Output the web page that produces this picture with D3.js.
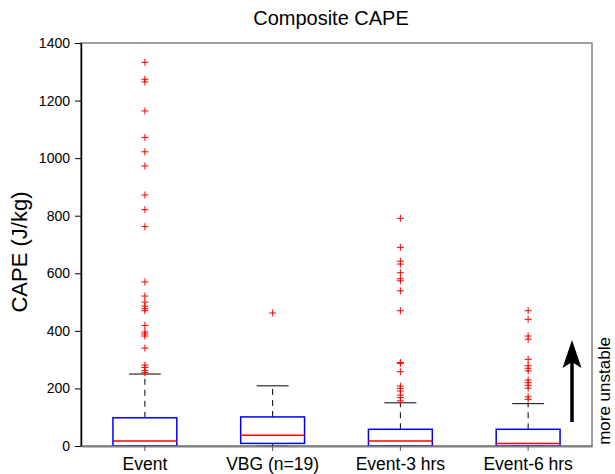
<!DOCTYPE html>
<html>
<head>
<meta charset="utf-8">
<script src="https://cdn.jsdelivr.net/npm/d3@7"></script>
<style>
  body { margin: 0; background: #fff; }
  svg { display: block; font-family: "Liberation Sans", Arial, Helvetica, sans-serif; }
</style>
</head>
<body>
<svg id="chart" width="615" height="474"></svg>
<script>
// box stats (J/kg)
const groups = ['Event', 'VBG (n=19)', 'Event-3 hrs', 'Event-6 hrs'];
const q1 = [0, 9, 0, 0];
const medians = [17, 37, 17, 9];
const q3 = [98, 101, 58, 58];
const whiskLo = [0, 0, 0, 0];
const whiskHi = [250, 209, 150, 147];

const outEvent = [1333, 1274, 1265, 1164, 1072, 1022, 973, 872, 821, 762, 570, 521, 500, 486, 477, 470, 419, 396, 389, 382, 340, 281, 273, 262, 255];
const outVBG = [462];
const outEvent3 = [791, 690, 642, 632, 602, 581, 574, 539, 470, 290, 287, 258, 208, 200, 191, 177, 168, 157];
const outEvent6 = [470, 440, 382, 371, 301, 279, 270, 261, 229, 220, 211, 201, 171, 162];
const outliers = [outEvent, outVBG, outEvent3, outEvent6];

const yTicks = [0, 200, 400, 600, 800, 1000, 1200, 1400];

const svg = d3.select('#chart');
const plotL = 81, plotR = 592, plotT = 43, plotB = 446;

const x = d3.scaleBand().domain(groups).range([plotL, plotR]);
const y = d3.scaleLinear().domain([0, 1400]).range([plotB, plotT]);
const boxW = x.bandwidth() / 2;
const capW = x.bandwidth() / 4;

// frame
svg.append('rect')
    .attr('x', plotL).attr('y', plotT)
    .attr('width', plotR - plotL).attr('height', plotB - plotT)
    .attr('fill', 'none').attr('stroke', '#7f7f7f').attr('stroke-width', 1.5);

const boxes = groups.map((g, i) => ({
    name: g, q1: q1[i], med: medians[i], q3: q3[i],
    lo: whiskLo[i], hi: whiskHi[i], out: outliers[i]
}));

const g = svg.selectAll('g.box').data(boxes).enter().append('g')
    .attr('class', 'box')
    .attr('transform', (d) => 'translate(' + (x(d.name) + x.bandwidth() / 2) + ',0)');

// whiskers
g.append('line')
    .attr('x1', 0).attr('x2', 0)
    .attr('y1', (d) => y(d.q3)).attr('y2', (d) => y(d.hi))
    .attr('stroke', '#000').attr('stroke-dasharray', '6,5');
g.append('line')
    .attr('x1', 0).attr('x2', 0)
    .attr('y1', (d) => y(d.q1)).attr('y2', (d) => y(d.lo))
    .attr('stroke', '#000').attr('stroke-dasharray', '6,5');
g.append('line')
    .attr('x1', -capW / 2).attr('x2', capW / 2)
    .attr('y1', (d) => y(d.hi)).attr('y2', (d) => y(d.hi))
    .attr('stroke', '#000');
g.append('line')
    .attr('x1', -capW / 2).attr('x2', capW / 2)
    .attr('y1', (d) => y(d.lo)).attr('y2', (d) => y(d.lo))
    .attr('stroke', '#000');

// box
g.append('rect')
    .attr('x', -boxW / 2).attr('width', boxW)
    .attr('y', (d) => y(d.q3))
    .attr('height', (d) => y(d.q1) - y(d.q3))
    .attr('fill', 'none').attr('stroke', '#0000ff').attr('stroke-width', 1.5);

// median
g.append('line')
    .attr('x1', -boxW / 2).attr('x2', boxW / 2)
    .attr('y1', (d) => y(d.med)).attr('y2', (d) => y(d.med))
    .attr('stroke', '#ff0000').attr('stroke-width', 1.5);

// outliers
g.selectAll('path.out').data((d) => d.out).enter().append('path')
    .attr('class', 'out')
    .attr('d', (v) => 'M-3.5,' + y(v) + 'H3.5M0,' + (y(v) - 3.5) + 'V' + (y(v) + 3.5))
    .attr('stroke', '#ff0000').attr('stroke-width', 1).attr('fill', 'none');

// y axis
const yAxis = svg.append('g')
    .attr('transform', 'translate(' + plotL + ',0)')
    .call(d3.axisLeft(y).tickValues(yTicks).tickFormat(d3.format('d'))
        .tickSize(6).tickSizeOuter(0).tickPadding(5));
yAxis.select('.domain').attr('stroke', '#000').attr('stroke-width', 1.5);
yAxis.selectAll('text').attr('font-size', 14).attr('fill', '#000')
    .attr('font-family', '"Liberation Sans", Arial, sans-serif');

// x axis
const xAxis = svg.append('g')
    .attr('transform', 'translate(0,' + plotB + ')')
    .call(d3.axisBottom(x).tickSize(5).tickSizeOuter(0).tickPadding(7));
xAxis.select('.domain').attr('stroke', '#7f7f7f').attr('stroke-width', 2);
xAxis.selectAll('.tick line').attr('stroke', '#555');
xAxis.selectAll('text').attr('font-size', 17.5).attr('fill', '#000')
    .attr('font-family', '"Liberation Sans", Arial, sans-serif');

// title and labels
svg.append('text')
    .attr('x', 331).attr('y', 25)
    .attr('text-anchor', 'middle').attr('font-size', 20)
    .text('Composite CAPE');

svg.append('text')
    .attr('transform', 'translate(27,252) rotate(-90)')
    .attr('text-anchor', 'middle').attr('font-size', 22)
    .text('CAPE (J/kg)');

svg.append('text')
    .attr('transform', 'translate(610,391) rotate(-90)')
    .attr('text-anchor', 'middle').attr('font-size', 17)
    .text('more unstable');

// arrow
const ax = 572;
svg.append('line')
    .attr('x1', ax).attr('x2', ax)
    .attr('y1', 422).attr('y2', 362)
    .attr('stroke', '#000').attr('stroke-width', 3.5);
svg.append('path')
    .attr('d', 'M' + ax + ',340 L' + (ax + 9.5) + ',368 L' + ax + ',362 L' + (ax - 9.5) + ',368 Z')
    .attr('fill', '#000');
</script>
</body>
</html>
